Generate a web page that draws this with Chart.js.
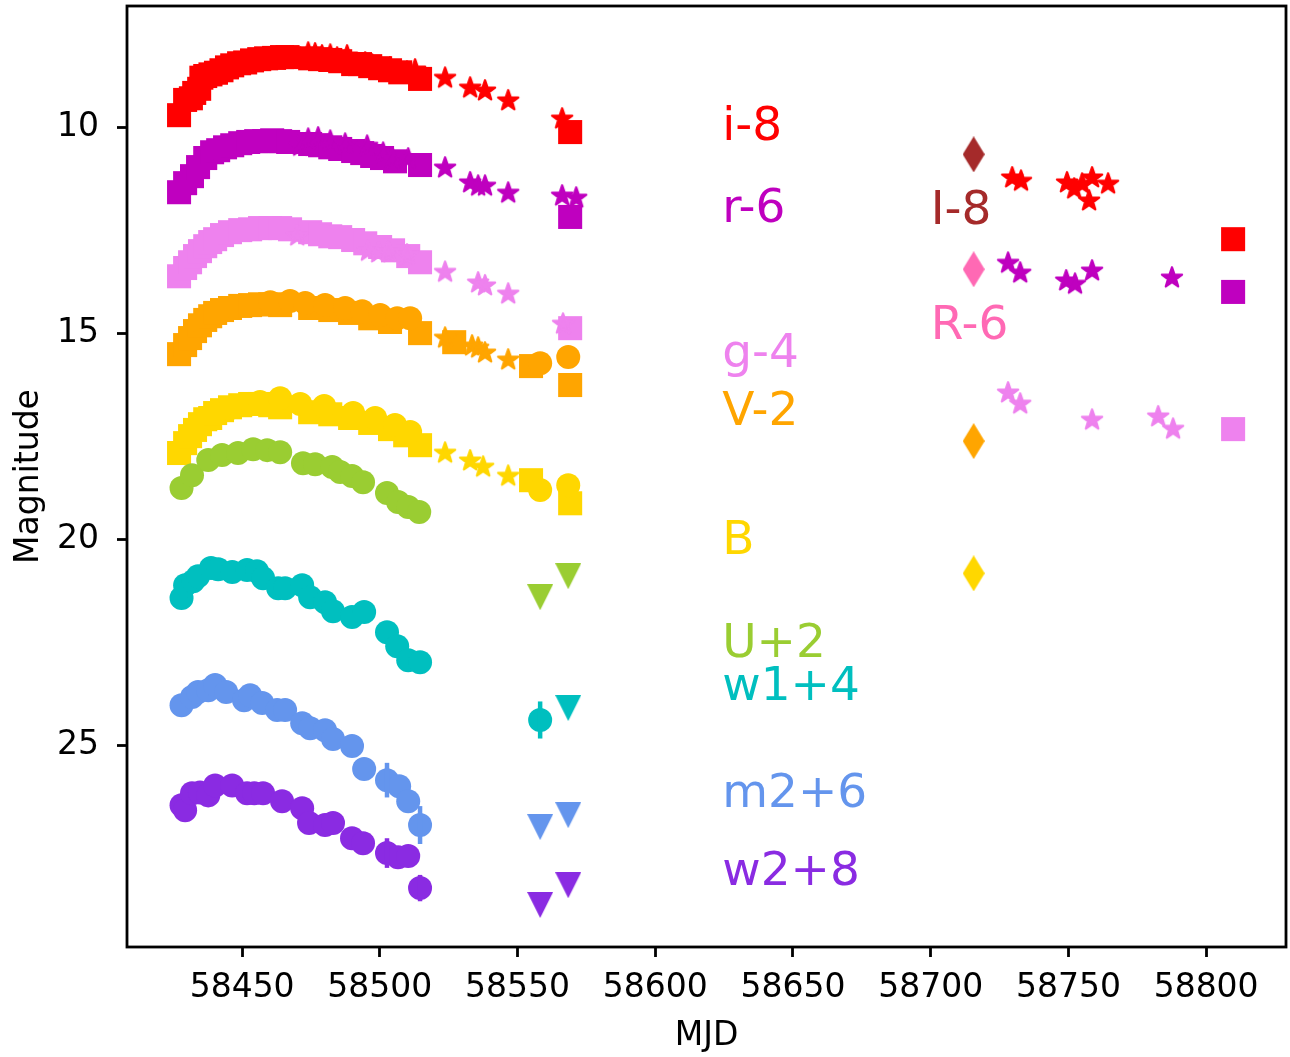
<!DOCTYPE html>
<html><head><meta charset="utf-8">
<script src="https://cdn.jsdelivr.net/npm/chart.js@4/dist/chart.umd.min.js"></script>
<style>html,body{margin:0;padding:0;background:#fff;overflow:hidden;} canvas{display:block;}</style>
</head><body>
<canvas id="c" width="1290" height="1057"></canvas>
<script>
// ---------- axis ticks ----------
const xTickValues = [58450, 58500, 58550, 58600, 58650, 58700, 58750, 58800];
const yTickValues = [10, 15, 20, 25];

// ---------- i-8 (red) ----------
const iSquares = [[58427.1,9.71],[58429.3,9.34],[58431.4,9.30],[58432.6,9.17],[58434.4,9.07],[58435.2,8.80],[58436.6,8.76],[58438.5,8.72],[58440.5,8.68],[58442.5,8.62],[58444.5,8.55],[58446.4,8.50],[58448.9,8.45],[58451.1,8.43],[58453.6,8.38],[58456.2,8.35],[58458.7,8.33],[58461.6,8.32],[58464.5,8.30],[58466.5,8.30],[58474.7,8.33],[58478.3,8.35],[58482.0,8.37],[58485.6,8.40],[58490.3,8.47],[58492.8,8.47],[58496.5,8.52],[58500.1,8.57],[58503.7,8.62],[58507.4,8.67],[58514.6,8.83],[58569.1,10.12],[58809.8,12.72]];
const iStars = [[58471.1,8.30],[58474.0,8.18],[58476.5,8.20],[58479.0,8.25],[58482.0,8.23],[58484.5,8.30],[58488.1,8.25],[58494.7,8.42],[58497.2,8.47],[58500.5,8.54],[58503.7,8.54],[58509.9,8.64],[58512.8,8.59],[58523.7,8.79],[58532.8,9.03],[58538.2,9.10],[58546.6,9.34],[58566.2,9.78],[58729.6,11.21],[58732.8,11.29],[58749.5,11.33],[58752.1,11.48],[58755.0,11.36],[58757.5,11.77],[58758.6,11.21],[58764.4,11.36]];

// ---------- r-6 (magenta) ----------
const rSquares = [[58427.1,11.58],[58429.3,11.36],[58431.8,11.19],[58434.0,10.97],[58436.6,10.75],[58439.1,10.61],[58441.3,10.56],[58443.8,10.49],[58446.4,10.44],[58449.3,10.39],[58452.2,10.36],[58455.1,10.34],[58458.0,10.34],[58460.9,10.32],[58463.8,10.34],[58466.7,10.36],[58474.7,10.41],[58478.3,10.44],[58482.0,10.49],[58485.6,10.53],[58490.3,10.58],[58493.6,10.63],[58497.2,10.70],[58500.8,10.75],[58505.5,10.83],[58514.6,10.92],[58569.1,12.18],[58809.8,14.00]];
const rStars = [[58471.1,10.44],[58474.0,10.27],[58477.6,10.24],[58482.0,10.32],[58487.4,10.39],[58495.4,10.44],[58501.2,10.61],[58504.5,10.75],[58510.3,10.75],[58523.7,10.97],[58532.8,11.33],[58535.7,11.41],[58538.2,11.41],[58546.6,11.58],[58566.2,11.65],[58571.3,11.70],[58728.1,13.28],[58732.5,13.52],[58749.2,13.71],[58752.4,13.79],[58758.6,13.47],[58787.6,13.64]];

// ---------- g-4 (violet) ----------
const gSquares = [[58427.1,13.62],[58429.3,13.42],[58431.1,13.28],[58432.9,13.13],[58434.7,13.01],[58436.6,12.89],[58438.4,12.79],[58440.2,12.72],[58442.7,12.62],[58445.6,12.55],[58449.3,12.50],[58452.9,12.48],[58456.5,12.45],[58460.2,12.45],[58463.8,12.45],[58467.4,12.48],[58474.7,12.55],[58478.3,12.60],[58482.0,12.65],[58485.6,12.67],[58490.3,12.74],[58494.7,12.82],[58500.1,12.91],[58504.8,12.99],[58510.3,13.13],[58514.6,13.28],[58569.1,14.88],[58809.8,17.33]];
const gStars = [[58470.0,12.62],[58495.7,12.99],[58499.4,13.03],[58503.0,13.01],[58509.9,13.08],[58523.7,13.50],[58535.7,13.76],[58538.2,13.83],[58546.6,14.03],[58566.5,14.76],[58728.1,16.43],[58732.5,16.70],[58758.6,17.09],[58782.6,17.01],[58788.0,17.31]];

// ---------- V-2 (orange) ----------
const vSquares = [[58427.1,15.51],[58429.3,15.29],[58431.1,15.12],[58432.9,14.95],[58434.7,14.81],[58436.6,14.68],[58438.4,14.59],[58440.2,14.51],[58442.7,14.44],[58445.6,14.39],[58449.3,14.34],[58452.9,14.32],[58456.5,14.30],[58460.2,14.30],[58463.8,14.32],[58474.7,14.39],[58482.0,14.44],[58489.2,14.51],[58496.5,14.64],[58503.7,14.73],[58514.6,15.00],[58527.0,15.22],[58554.9,15.80],[58569.1,16.26]];
const vCircles = [[58460.2,14.25],[58467.4,14.22],[58472.9,14.27],[58480.1,14.32],[58487.4,14.39],[58493.6,14.47],[58500.1,14.56],[58506.3,14.64],[58511.0,14.64],[58558.2,15.73],[58568.4,15.58]];
const vStars = [[58523.7,15.10],[58533.5,15.29],[58535.7,15.34],[58538.2,15.46],[58546.6,15.63]];

// ---------- B (gold) ----------
const bSquares = [[58427.1,17.91],[58429.3,17.67],[58431.1,17.50],[58432.9,17.35],[58434.7,17.21],[58436.6,17.09],[58438.4,17.06],[58440.2,16.94],[58442.7,16.87],[58445.6,16.80],[58449.3,16.75],[58452.9,16.72],[58456.5,16.72],[58460.2,16.75],[58463.8,16.80],[58474.7,16.92],[58482.0,16.97],[58489.2,17.06],[58496.5,17.18],[58503.7,17.33],[58509.2,17.48],[58514.6,17.72],[58554.9,18.57],[58569.1,19.13]];
const bCircles = [[58445.6,16.82],[58456.5,16.67],[58463.8,16.58],[58471.1,16.72],[58479.8,16.77],[58490.3,16.94],[58498.3,17.06],[58505.5,17.23],[58511.0,17.40],[58558.2,18.81],[58568.4,18.69]];
const bStars = [[58523.7,17.89],[58532.8,18.08],[58537.5,18.23],[58546.6,18.45]];

// ---------- U+2 (yellowgreen) ----------
const uCircles = [[58428.0,18.76],[58431.8,18.45],[58437.7,18.08],[58442.7,17.96],[58448.5,17.91],[58454.0,17.82],[58459.1,17.84],[58463.8,17.89],[58472.1,18.16],[58476.5,18.18],[58482.7,18.25],[58485.6,18.37],[58489.9,18.47],[58493.9,18.62],[58502.6,18.88],[58506.6,19.10],[58510.3,19.22],[58514.3,19.34]];
const uLimits = [[58558.2,21.41],[58568.4,20.90]];

// ---------- w1+4 (c) ----------
const w1Circles = [[58428.0,21.43],[58429.3,21.12],[58432.2,21.02],[58434.0,20.90],[58438.7,20.70],[58441.3,20.73],[58446.4,20.80],[58451.8,20.75],[58455.4,20.78],[58457.6,20.95],[58463.1,21.19],[58465.6,21.19],[58471.8,21.12],[58474.7,21.41],[58480.1,21.53],[58483.0,21.75],[58489.9,21.89],[58494.3,21.77],[58502.6,22.26],[58506.3,22.60],[58510.3,22.94],[58514.6,22.99],[58558.2,24.39]];
const w1Errors = [0,0,0,0,0,0,0,0,0,0,0,0,0,0,0,0,0,0,0,0,0,0,0.45];
const w1Limits = [[58568.4,24.10]];

// ---------- m2+6 (cornflowerblue) ----------
const m2Circles = [[58428.0,24.03],[58431.8,23.83],[58434.0,23.71],[58437.7,23.67],[58440.2,23.54],[58444.2,23.71],[58450.7,23.91],[58452.9,23.79],[58457.3,23.98],[58462.7,24.15],[58465.6,24.15],[58471.8,24.47],[58474.7,24.59],[58480.1,24.64],[58483.0,24.85],[58489.9,25.02],[58494.3,25.58],[58502.6,25.85],[58507.0,26.00],[58510.3,26.36],[58514.6,26.94]];
const m2Errors = [0,0,0,0,0,0,0,0,0,0,0,0,0,0,0,0,0,0.42,0,0,0.46];
const m2Limits = [[58558.2,26.99],[58568.4,26.70]];

// ---------- w2+8 (blueviolet) ----------
const w2Circles = [[58428.0,26.46],[58429.3,26.58],[58431.8,26.17],[58434.7,26.15],[58437.7,26.22],[58440.2,25.98],[58446.4,25.98],[58451.8,26.17],[58454.4,26.17],[58457.6,26.17],[58464.5,26.36],[58471.8,26.53],[58474.3,26.89],[58480.1,26.94],[58483.0,26.89],[58489.9,27.26],[58493.9,27.38],[58502.6,27.62],[58506.6,27.72],[58510.3,27.69],[58514.6,28.47]];
const w2Errors = [0,0,0,0,0,0,0,0,0,0,0,0,0,0,0,0,0,0.36,0,0,0.32];
const w2Limits = [[58558.2,28.88],[58568.4,28.40]];

// ---------- late single epochs (diamonds) ----------
const IDiamond = [[58715.6,10.66]];
const RDiamond = [[58715.6,13.45]];
const VDiamond = [[58715.6,17.62]];
const BDiamond = [[58715.6,20.83]];

// ---------- text labels ----------
const labelTexts  = ['i-8','r-6','g-4','V-2','B','U+2','w1+4','m2+6','w2+8','I-8','R-6'];
const labelX      = [58624.3,58624.3,58624.3,58624.3,58624.3,58624.3,58624.3,58624.3,58624.3,58700.0,58700.0];
const labelY      = [10.32,12.31,15.83,17.23,20.36,22.86,23.91,26.50,28.40,12.35,15.15];
const labelColors = ['#ff0000','#bf00bf','#ee82ee','#ffa500','#ffd700','#9acd32','#00bfbf','#6495ed','#8a2be2','#a52a2a','#ff69b4'];

// ---------- marker sprites ----------
function starSprite(color) {
  const R = 10.6, s = 26;
  const c = document.createElement('canvas'); c.width = s; c.height = s;
  const g = c.getContext('2d');
  g.fillStyle = color; g.strokeStyle = color; g.lineWidth = 2.2; g.lineJoin = 'round';
  g.beginPath();
  for (let i = 0; i < 10; i++) {
    const a = -Math.PI / 2 + i * Math.PI / 5;
    const rr = (i % 2) ? R * 0.40 : R;
    g.lineTo(s / 2 + rr * Math.cos(a), s / 2 + 0.8 + rr * Math.sin(a));
  }
  g.closePath(); g.fill(); g.stroke();
  return c;
}
function triSprite(color) {
  const c = document.createElement('canvas'); c.width = 26; c.height = 26;
  const g = c.getContext('2d'); g.fillStyle = color;
  g.beginPath(); g.moveTo(0, 0); g.lineTo(26, 0); g.lineTo(13, 26); g.closePath(); g.fill();
  return c;
}
function diaSprite(color) {
  const c = document.createElement('canvas'); c.width = 22; c.height = 36;
  const g = c.getContext('2d'); g.fillStyle = color;
  g.beginPath(); g.moveTo(11, 0); g.lineTo(22, 18); g.lineTo(11, 36); g.lineTo(0, 18); g.closePath(); g.fill();
  return c;
}

const toPts = arr => arr.map(p => ({x: p[0], y: p[1]}));
function ds(data, color, kind, errs) {
  const d = { data: toPts(data), backgroundColor: color, borderColor: color, borderWidth: 0, pointHoverRadius: 0 };
  if (kind === 'square') { d.pointStyle = 'rect'; d.pointRadius = 17; }
  else if (kind === 'circle') { d.pointStyle = 'circle'; d.pointRadius = 12; }
  else if (kind === 'star') { d.pointStyle = starSprite(color); d.pointRadius = 10; }
  else if (kind === 'tri') { d.pointStyle = triSprite(color); d.pointRadius = 10; }
  else if (kind === 'dia') { d.pointStyle = diaSprite(color); d.pointRadius = 10; }
  if (errs) d.yErr = errs;
  return d;
}

const datasets = [
  ds(iSquares, '#ff0000', 'square'), ds(iStars, '#ff0000', 'star'),
  ds(rSquares, '#bf00bf', 'square'), ds(rStars, '#bf00bf', 'star'),
  ds(gSquares, '#ee82ee', 'square'), ds(gStars, '#ee82ee', 'star'),
  ds(vSquares, '#ffa500', 'square'), ds(vCircles, '#ffa500', 'circle'), ds(vStars, '#ffa500', 'star'),
  ds(bSquares, '#ffd700', 'square'), ds(bCircles, '#ffd700', 'circle'), ds(bStars, '#ffd700', 'star'),
  ds(uCircles, '#9acd32', 'circle'), ds(uLimits, '#9acd32', 'tri'),
  ds(w1Circles, '#00bfbf', 'circle', w1Errors), ds(w1Limits, '#00bfbf', 'tri'),
  ds(m2Circles, '#6495ed', 'circle', m2Errors), ds(m2Limits, '#6495ed', 'tri'),
  ds(w2Circles, '#8a2be2', 'circle', w2Errors), ds(w2Limits, '#8a2be2', 'tri'),
  ds(IDiamond, '#a52a2a', 'dia'), ds(RDiamond, '#ff69b4', 'dia'),
  ds(VDiamond, '#ffa500', 'dia'), ds(BDiamond, '#ffd700', 'dia')
];
datasets.forEach((d, i) => { d.order = -i; });

const FONT = 'DejaVu Sans';

const errPlugin = {
  id: 'errbars',
  afterDatasetsDraw(chart) {
    const ctx = chart.ctx, xs = chart.scales.x, ys = chart.scales.y;
    chart.data.datasets.forEach(d => {
      if (!d.yErr) return;
      ctx.save(); ctx.strokeStyle = d.borderColor; ctx.lineWidth = 4.5;
      d.data.forEach((p, i) => {
        const e = d.yErr[i]; if (!e) return;
        const px = xs.getPixelForValue(p.x);
        ctx.beginPath(); ctx.moveTo(px, ys.getPixelForValue(p.y - e)); ctx.lineTo(px, ys.getPixelForValue(p.y + e)); ctx.stroke();
      });
      ctx.restore();
    });
  }
};
const textPlugin = {
  id: 'bandLabels',
  afterDatasetsDraw(chart) {
    const ctx = chart.ctx, xs = chart.scales.x, ys = chart.scales.y;
    ctx.save(); ctx.font = '47px "' + FONT + '"'; ctx.textAlign = 'left'; ctx.textBaseline = 'alphabetic';
    labelTexts.forEach((t, i) => {
      ctx.fillStyle = labelColors[i];
      ctx.fillText(t, xs.getPixelForValue(labelX[i]), ys.getPixelForValue(labelY[i]));
    });
    ctx.restore();
  }
};
const framePlugin = {
  id: 'frame',
  afterDraw(chart) {
    const a = chart.chartArea, ctx = chart.ctx;
    ctx.save(); ctx.strokeStyle = '#000'; ctx.lineWidth = 2.8;
    ctx.strokeRect(a.left, a.top, a.right - a.left, a.bottom - a.top);
    ctx.restore();
  }
};
const zeroPad = s => { s.paddingLeft = 0; s.paddingRight = 0; s.paddingTop = 0; s.paddingBottom = 0; };

new Chart(document.getElementById('c'), {
  type: 'scatter',
  data: { datasets },
  plugins: [errPlugin, textPlugin, framePlugin],
  options: {
    responsive: false, animation: false, devicePixelRatio: 1,
    layout: { autoPadding: false, padding: { top: 6, right: 4, left: 0, bottom: 0 } },
    plugins: { legend: { display: false }, tooltip: { enabled: false } },
    events: [],
    scales: {
      x: {
        type: 'linear', min: 58408.2, max: 58829,
        afterBuildTicks: s => { s.ticks = xTickValues.map(v => ({ value: v })); },
        afterFit: s => { s.height = 110; zeroPad(s); },
        ticks: { callback: v => String(v), font: { family: FONT, size: 33 }, color: '#000', padding: 12, maxRotation: 0, autoSkip: false },
        grid: { display: true, drawOnChartArea: false, drawTicks: true, tickLength: 10, tickWidth: 2.8, tickColor: '#000' },
        border: { display: false },
        title: { display: true, text: 'MJD', font: { family: FONT, size: 33 }, color: '#000', padding: { top: 0, bottom: 1 } }
      },
      y: {
        type: 'linear', reverse: true, min: 7.06, max: 29.9,
        afterBuildTicks: s => { s.ticks = yTickValues.map(v => ({ value: v })); },
        afterFit: s => { s.width = 127; zeroPad(s); },
        ticks: { callback: v => String(v), font: { family: FONT, size: 33 }, color: '#000', padding: 18, autoSkip: false },
        grid: { display: true, drawOnChartArea: false, drawTicks: true, tickLength: 10, tickWidth: 2.8, tickColor: '#000' },
        border: { display: false },
        title: { display: true, text: 'Magnitude', font: { family: FONT, size: 33 }, color: '#000', padding: { top: 10, bottom: 0 } }
      }
    }
  }
});
</script>
</body></html>
